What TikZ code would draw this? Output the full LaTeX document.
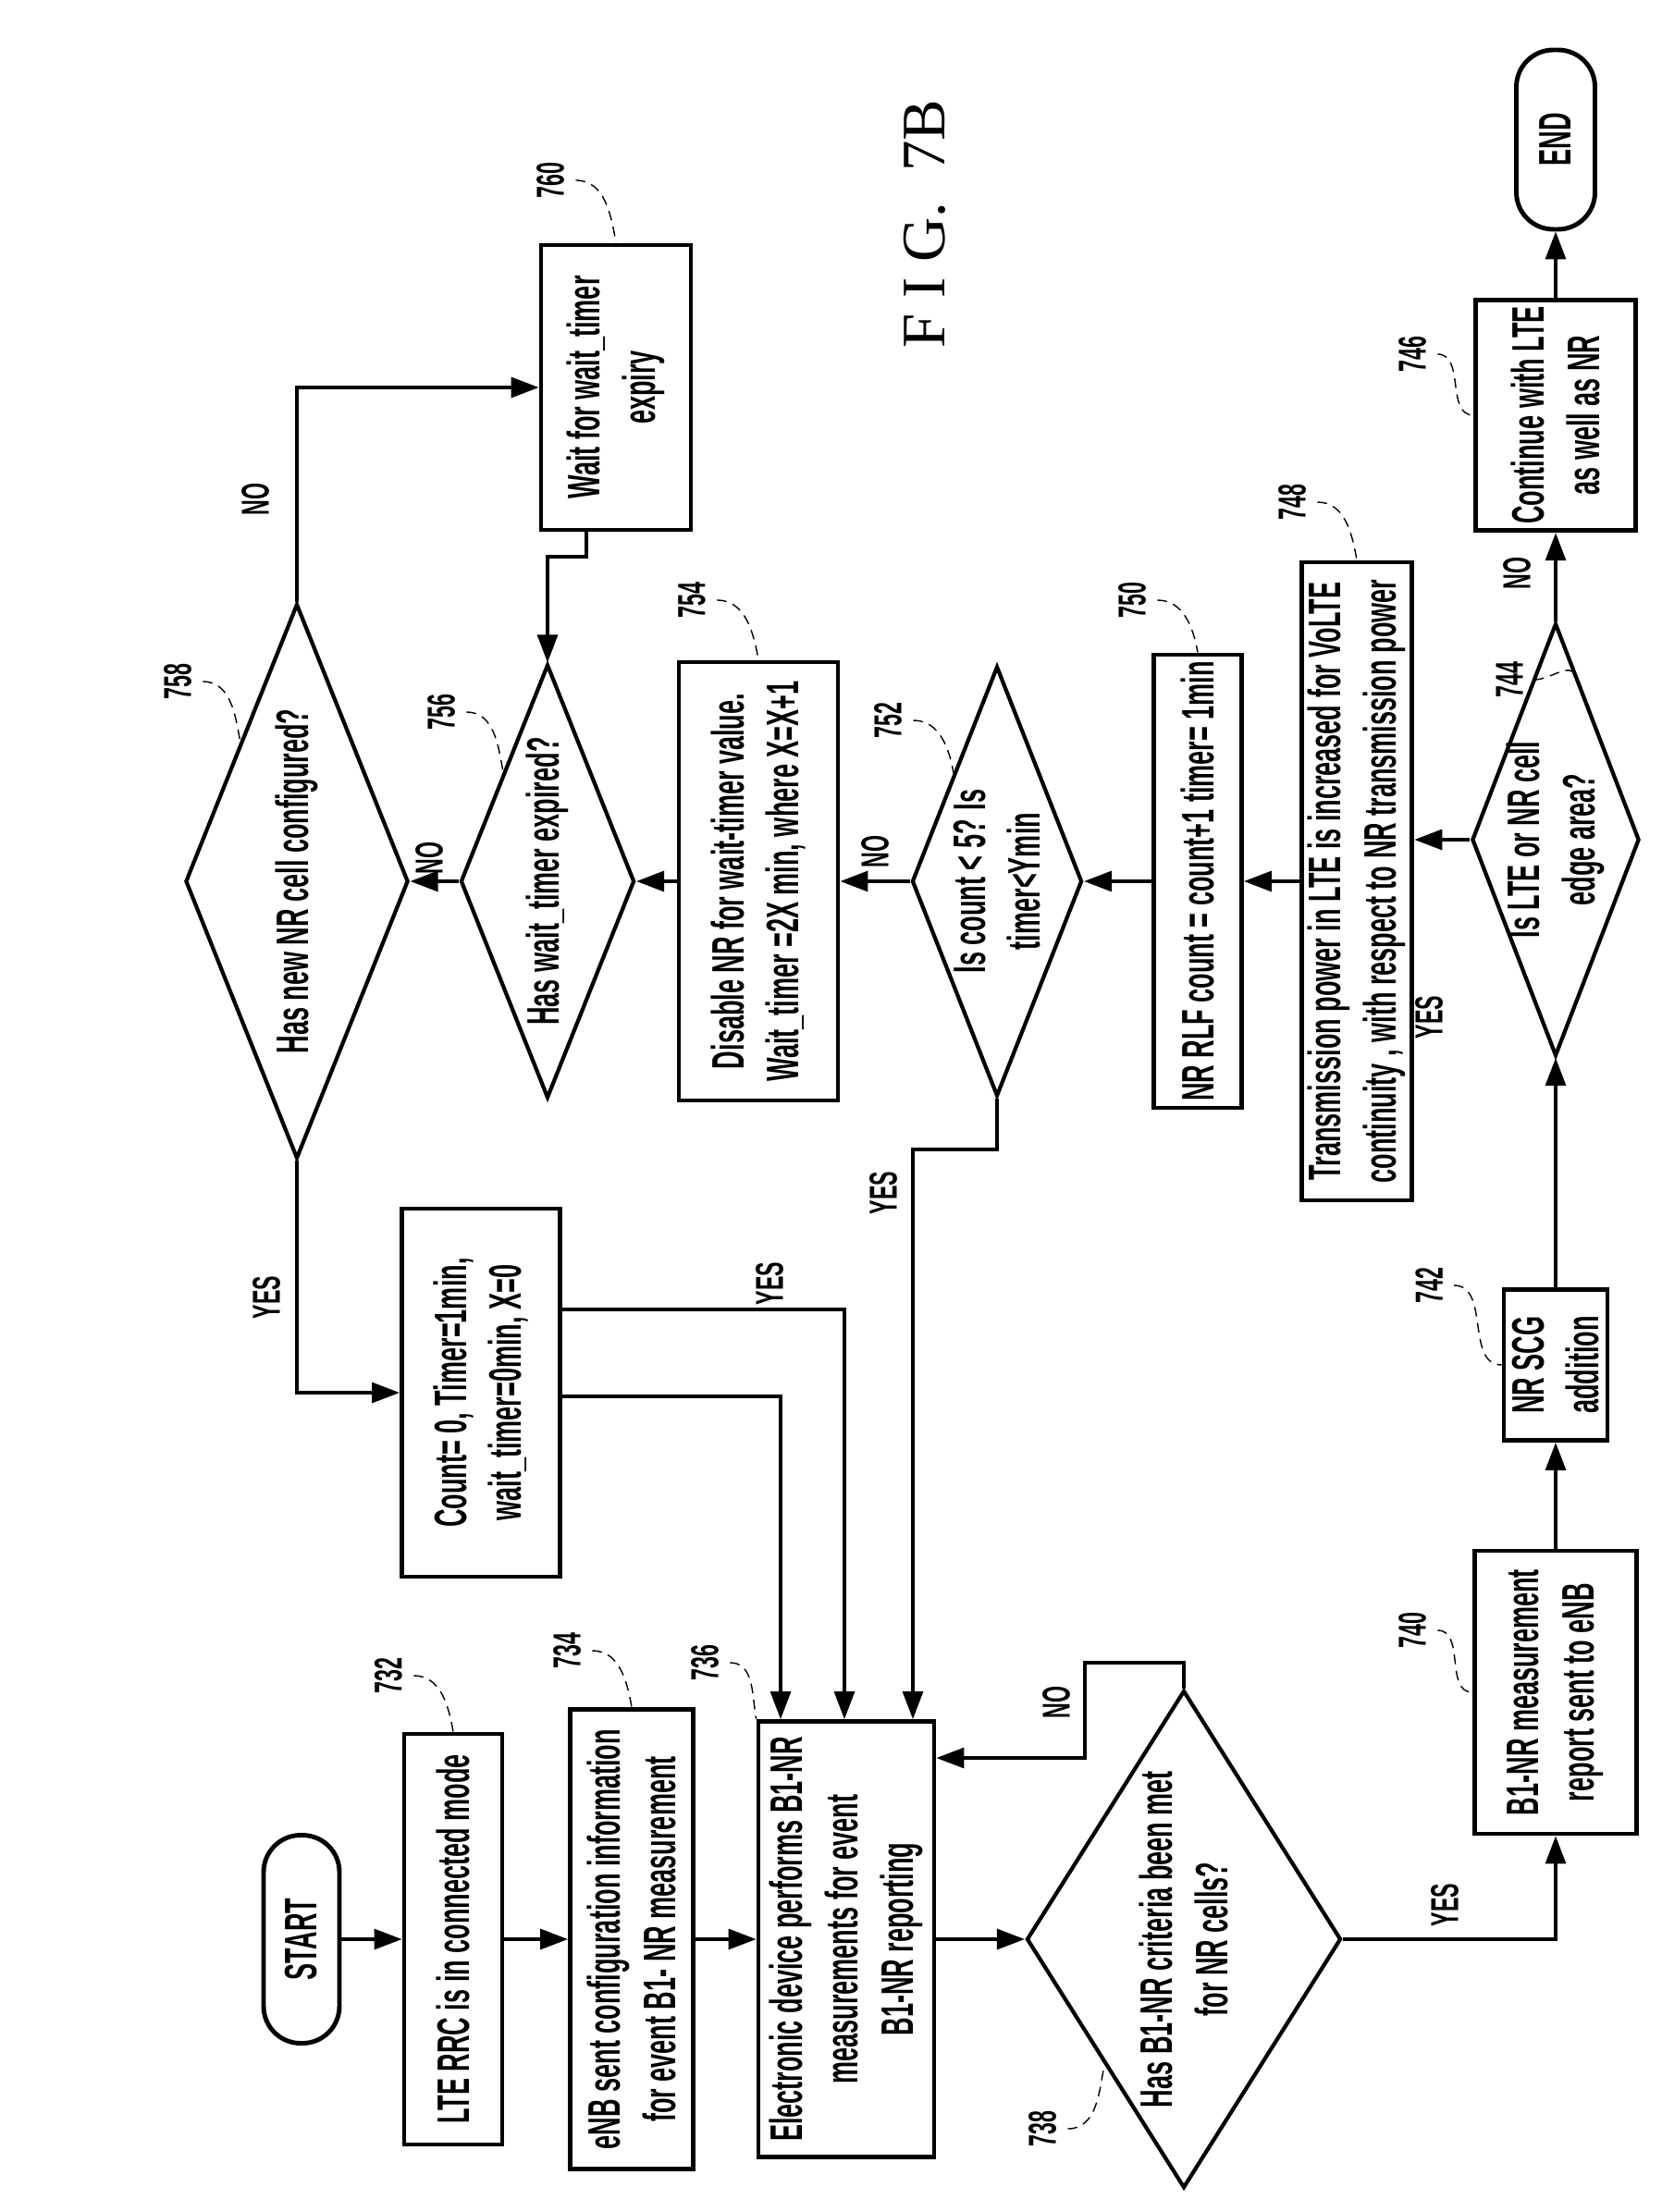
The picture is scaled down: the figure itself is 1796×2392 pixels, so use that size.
\documentclass[tikz,border=0pt]{standalone}
\usepackage{fontspec}
\setmainfont{Liberation Sans}[FakeStretch=0.55]
\newfontfamily\figfont{Liberation Serif}
\usetikzlibrary{arrows.meta,shapes.geometric,calc}

\begin{document}
\begin{tikzpicture}[
    x=0.1mm, y=-0.1mm,
    txt/.style={font=\fontsize{14}{17}\selectfont\bfseries},
    box/.style={draw,txt,line width=1.4pt,rotate=90,align=center,inner sep=2pt},
    term/.style={box,rounded corners=4mm},
    dec/.style={draw,diamond,line width=1.2pt,rotate=90,inner sep=0pt},
    dtxt/.style={txt,rotate=90,align=center},
    flow/.style={draw,line width=0.9pt,-{Triangle[length=3mm,width=2.2mm]}},
    lead/.style={draw,thin,densely dashed},
    num/.style={rotate=90,font=\fontsize{12}{14}\selectfont\bfseries},
    yn/.style={rotate=90,font=\fontsize{12}{14}\selectfont\bfseries}]
  \useasboundingbox (0,0) rectangle (1796,2392);
  \node[rotate=90,font=\figfont\fontsize{19}{23}\selectfont] (fig) at (1000,242) {F I G. \ 7B};
  % main row
  \node[term,minimum width=22.5mm,minimum height=8.2mm] (start) at (326,2097) {START};
  \node[box,minimum width=44.4mm,minimum height=10.6mm] (b732) at (490,2097) {LTE RRC is in connected mode};
  \node[box,minimum width=49.7mm,minimum height=13.3mm] (b734) at (683,2097) {eNB sent configuration information\\for event B1- NR measurement};
  \node[box,minimum width=47.1mm,minimum height=19mm] (b736) at (915,2097) {Electronic device performs B1-NR\\measurements for event\\B1-NR reporting};
  \node[dec,minimum width=53.8mm,minimum height=34mm,
    label={[dtxt]center:Has B1-NR criteria been met\\for NR cells?}] (d738) at (1280,2097) {};
  % right column
  \node[box,minimum width=30.6mm,minimum height=17.5mm] (b740) at (1682,1830) {B1-NR measurement\\report sent to eNB};
  \node[box,minimum width=16.3mm,minimum height=11.2mm] (b742) at (1682,1476) {NR SCG\\addition};
  \node[dec,minimum width=46.8mm,minimum height=18.1mm,
    label={[dtxt]center:Is LTE or NR cell\\edge area?}] (d744) at (1682,908) {};
  \node[box,minimum width=23.8mm,minimum height=17.3mm] (b746) at (1682,449) {Continue with LTE\\as well as NR};
  \node[term,minimum width=19.4mm,minimum height=8.5mm] (endn) at (1682,151) {END};
  % middle row
  \node[box,minimum width=69mm,minimum height=11.8mm] (b748) at (1467,953) {Transmission power in LTE is increased for VoLTE\\continuity , with respect to NR transmission power};
  \node[box,minimum width=47.2mm,minimum height=9.5mm] (b750) at (1295,953) {NR RLF count = count+1 timer= 1min};
  \node[dec,minimum width=46.5mm,minimum height=18.4mm,
    label={[dtxt]center:Is count < 5? Is\\timer<Ymin}] (d752) at (1078,953) {};
  \node[box,minimum width=47.4mm,minimum height=17.2mm] (b754) at (820,953) {Disable NR for wait-timer value.\\Wait\_timer =2X min, where X=X+1};
  \node[dec,minimum width=46.9mm,minimum height=18.8mm,
    label={[dtxt]center:Has wait\_timer expired?}] (d756) at (592,953) {};
  \node[dec,minimum width=60mm,minimum height=24.1mm,
    label={[dtxt]center:Has new NR cell configured?}] (d758) at (321,953) {};
  \node[box,minimum width=30.8mm,minimum height=16.2mm] (b760) at (666,419) {Wait for wait\_timer\\expiry};
  \node[box,minimum width=39.8mm,minimum height=17.1mm] (cnt) at (520,1506) {Count= 0, Timer=1min,\\wait\_timer=0min, X=0};
  % bend points
  \coordinate (n1) at (1173,1798);
  \coordinate (n2) at (1173,1901);
  \coordinate (y1) at (987,1243);
  \coordinate (w1) at (634,602);
  \coordinate (c1) at (913,1416);
  \coordinate (c2) at (844,1510);
  % connectors
  \draw[flow] (start) -- (b732);
  \draw[flow] (b732) -- (b734);
  \draw[flow] (b734) -- (b736);
  \draw[flow] (b736) -- (d738.north);
  \draw[flow] (d738.east) |- (n1) -- (n2) -- (n2 -| b736.south);
  \draw[flow] (d738.south) -| (b740.west);
  \draw[flow] (b740.east) -- (b742.west);
  \draw[flow] (b742.east) -- (d744.west);
  \draw[flow] (d744.east) -- (b746.west);
  \draw[flow] (b746.east) -- (endn.west);
  \draw[flow] (d744.north) -- (d744.north -| b748.south);
  \draw[flow] (b748) -- (b750);
  \draw[flow] (b750) -- (d752.south);
  \draw[flow] (d752.north) -- (b754);
  \draw[flow] (b754) -- (d756.south);
  \draw[flow] (d756.north) -- (d758.south);
  \draw[flow] (d752.west) |- (y1) -- (y1 |- b736.east);
  \draw[flow] (d758.east) |- (b760.north);
  \draw[flow] (w1 |- b760.west) -- (w1) -| (d756.east);
  \draw[flow] (d758.west) |- (cnt.north);
  \draw[flow] (c1 -| cnt.south) -| (c1 |- b736.east);
  \draw[flow] (c2 -| cnt.south) -| (c2 |- b736.east);
  % yes / no
  \node[yn] (no738) at (1142,1841) {NO};
  \node[yn] (yes738) at (1562,2060) {YES};
  \node[yn] (no744) at (1640,620) {NO};
  \node[yn] (yes744) at (1545,1100) {YES};
  \node[yn] (no752) at (946,921) {NO};
  \node[yn] (yes752) at (955,1290) {YES};
  \node[yn] (no756) at (464,928) {NO};
  \node[yn] (no758) at (276,540) {NO};
  \node[yn] (yes758) at (288,1403) {YES};
  \node[yn] (yescnt) at (832,1388) {YES};
  % reference numbers
  \node[num] (l732) at (420,1812) {732};
  \node[num] (l734) at (613,1785) {734};
  \node[num] (l736) at (762,1798) {736};
  \node[num] (l738) at (1127,2302) {738};
  \node[num] (l740) at (1527,1763) {740};
  \node[num] (l742) at (1545,1390) {742};
  \node[num] (l744) at (1632,735) {744};
  \node[num] (l746) at (1527,383) {746};
  \node[num] (l748) at (1397,543) {748};
  \node[num] (l750) at (1224,649) {750};
  \node[num] (l752) at (960,779) {752};
  \node[num] (l754) at (748,649) {754};
  \node[num] (l756) at (477,770) {756};
  \node[num] (l758) at (192,737) {758};
  \node[num] (l760) at (595,195) {760};
  \draw[lead] (l732.south) to[out=0,in=100] (b732.east);
  \draw[lead] (l734.south) to[out=0,in=100] (b734.east);
  \draw[lead] (l736.south) to[out=0,in=100] (b736.north east);
  \draw[lead] (l738.south) to[out=0,in=-100] ($(d738.north)!0.5!(d738.west)$);
  \draw[lead] (l740.south) to[out=0,in=180] (b740.north);
  \draw[lead] (l742.south) to[out=0,in=180] (b742.north);
  \draw[lead] (l744.south) to[out=0,in=120] ($(d744.south)!0.75!(d744.east)$);
  \draw[lead] (l746.south) to[out=0,in=180] (b746.north);
  \draw[lead] (l748.south) to[out=0,in=100] (b748.east);
  \draw[lead] (l750.south) to[out=0,in=100] (b750.east);
  \draw[lead] (l752.south) to[out=0,in=100] ($(d752.north)!0.5!(d752.east)$);
  \draw[lead] (l754.south) to[out=0,in=100] (b754.east);
  \draw[lead] (l756.south) to[out=0,in=100] ($(d756.north)!0.5!(d756.east)$);
  \draw[lead] (l758.south) to[out=0,in=100] ($(d758.north)!0.5!(d758.east)$);
  \draw[lead] (l760.south) to[out=0,in=100] (b760.east);
\end{tikzpicture}
\end{document}
